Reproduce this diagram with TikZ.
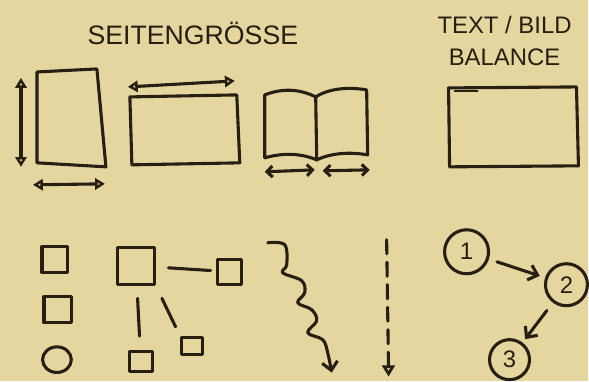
\documentclass[tikz,border=0pt]{standalone}
\usepackage{fontspec}
\setmainfont{Liberation Sans}
\usepackage{tikz}
\usetikzlibrary{arrows.meta,positioning,shapes.geometric}
\definecolor{paper}{RGB}{229,214,160}
\definecolor{ink}{RGB}{38,31,18}

\begin{document}
\begin{tikzpicture}[
  x=0.025cm, y=-0.025cm,
  pen/.style={draw=ink, line width=2.2pt, line cap=round, line join=round},
  dimarrow/.style={pen, {Triangle[open,length=7pt,width=8pt]}-{Triangle[open,length=7pt,width=8pt]}},
  barbarrow/.style={pen, {Straight Barb[length=4pt,width=8pt]}-{Straight Barb[length=4pt,width=8pt]}},
  sqbox/.style={pen, rectangle, inner sep=0pt},
  numcircle/.style={pen, circle, inner sep=0pt, text=ink, font=\fontsize{17}{20}\selectfont},
  link/.style={pen, shorten <=9pt, shorten >=5pt},
  flow/.style={pen, -{Straight Barb[length=6pt,width=11pt]}},
  heading/.style={text=ink, font=\fontsize{19}{23}\selectfont}
]
  % Paper background (fixes the bounding box)
  \fill[paper] (0,0) rectangle (589,381);

  % Headings
  \node[heading] (title) at (193,33) {SEITENGRÖSSE};
  \node[heading, font=\fontsize{17}{23}\selectfont, align=center] (balance) at (505,41) {TEXT / BILD\\BALANCE};

  % Portrait page with its dimensions
  \draw[pen] (37,72) -- (97,69) -- (106,167) -- (37,163) -- cycle;
  \draw[dimarrow] (21,78) -- (21,167);
  \draw[dimarrow] (33,185) -- (105,184);

  % Landscape page
  \draw[pen] (130,97) -- (237,95) -- (240,163) -- (132,165) -- cycle;
  \draw[dimarrow] (128,87) -- (235,81);

  % Open book
  \draw[pen] (265,158) -- (265,95) .. controls (283,88) and (300,89) .. (316,97)
    .. controls (330,88) and (350,87) .. (367,90) -- (368,155)
    .. controls (350,152) and (332,153) .. (317,160)
    .. controls (300,153) and (283,153) .. (265,158);
  \draw[pen] (316,97) -- (317,160);
  \draw[barbarrow] (265,172) -- (315,170);
  \draw[barbarrow] (323,171) -- (370,170);

  % Text/picture balance page
  \draw[pen] (449,88) -- (577,87) -- (579,166) -- (450,167) -- cycle;
  \draw[pen, line width=1.4pt] (455,91) -- (478,91);

  % Single elements
  \node[sqbox, minimum width=0.65cm, minimum height=0.65cm] (sqa) at (55,260) {};
  \node[sqbox, minimum width=0.7cm, minimum height=0.65cm] (sqb) at (58,310) {};
  \node[pen, ellipse, minimum width=0.72cm, minimum height=0.64cm, inner sep=0pt] (dot) at (57,360) {};

  % Grouped elements
  \node[sqbox, minimum width=0.92cm, minimum height=0.92cm] (bigsq) at (136,266) {};
  \node[sqbox, minimum width=0.6cm, minimum height=0.62cm] (rsq) at (230,272) {};
  \node[sqbox, minimum width=0.57cm, minimum height=0.5cm] (bsq) at (141,362) {};
  \node[sqbox, minimum width=0.52cm, minimum height=0.42cm] (rbsq) at (192,346) {};
  \draw[link, shorten >=4pt] (bigsq) -- (rsq);
  \draw[link, shorten >=10pt] (bigsq) -- (bsq);
  \draw[link, shorten <=10pt, shorten >=7pt] (bigsq.south east) -- (rbsq.north west);

  % Free flow (wavy arrow)
  \draw[flow] plot[smooth, tension=0.6] coordinates {(268,243) (285,245) (287,265) (283,273)
    (302,281) (305,293) (298,303) (312,310) (317,321) (308,333) (323,340) (328,353) (332,373)};

  % Straight flow (dashed arrow)
  \draw[pen, dash pattern=on 10pt off 6pt, -{Triangle[open,length=8pt,width=9pt]}] (387,240) -- (389,377);

  % Numbered order
  \node[numcircle, minimum size=1.1cm] (n1) at (467,252) {1};
  \node[numcircle, minimum size=1.05cm] (n2) at (567,285) {2};
  \node[numcircle, minimum size=1.0cm] (n3) at (510,360) {3};
  \draw[flow, shorten <=6pt, shorten >=4pt] (n1) -- (n2);
  \draw[flow, shorten <=7pt, shorten >=3pt] (n2) -- (n3);
\end{tikzpicture}
\end{document}
